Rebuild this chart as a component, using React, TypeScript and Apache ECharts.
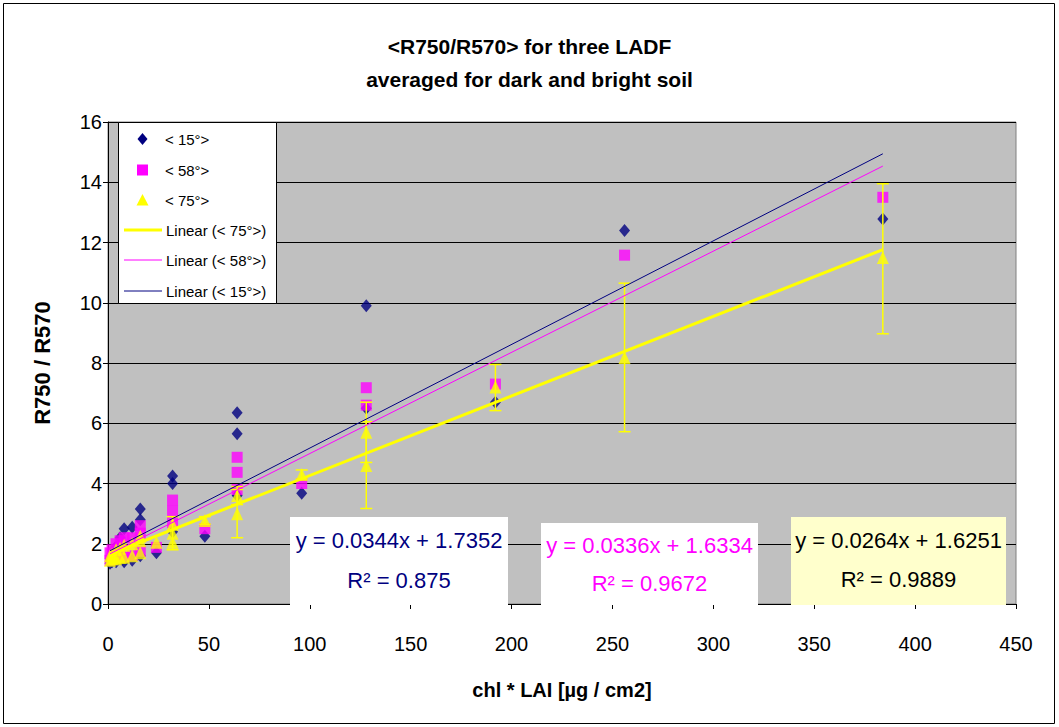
import React, { useEffect, useRef } from "react";
import * as echarts from "echarts";

// ---- Data ----
const seriesNames = ["< 15°>", "< 58°>", "< 75°>"];
const trendNames = ["Linear (< 75°>)", "Linear (< 58°>)", "Linear (< 15°>)"];

const blue15: number[][] = [
  [1, 1.5], [1, 1.35], [2, 1.6], [2, 1.4], [3, 1.5], [4, 1.9], [4, 1.4], [6, 2.2], [6, 1.5],
  [8, 2.5], [8, 1.4], [12, 2.55], [12, 1.45], [16, 3.15], [16, 2.8], [16, 1.6], [24, 1.7],
  [32, 4.25], [32, 4.0], [32, 2.4], [48, 2.25], [64, 6.35], [64, 5.65], [64, 3.6], [96, 3.68],
  [128, 9.9], [128, 6.5], [192, 6.7], [256, 12.4], [384, 12.78],
];

const magenta58: number[][] = [
  [1, 1.7], [1, 1.45], [2, 1.8], [2, 1.5], [3, 1.6], [4, 2.0], [4, 1.55], [6, 2.1], [6, 1.6],
  [8, 2.2], [8, 1.55], [12, 2.2], [12, 1.6], [16, 2.6], [16, 2.35], [16, 1.75], [24, 1.88],
  [32, 3.45], [32, 3.1], [32, 2.7], [48, 2.5], [64, 4.87], [64, 4.37], [64, 3.8], [96, 4.0],
  [128, 7.18], [128, 6.6], [192, 7.3], [256, 11.58], [384, 13.5],
];

const yellow75: number[][] = [
  [1, 1.6], [1, 1.45], [2, 1.65], [2, 1.5], [3, 1.55], [4, 1.8], [4, 1.5], [6, 1.85], [6, 1.55],
  [8, 1.95], [8, 1.55], [12, 2.0], [12, 1.6], [16, 2.25], [16, 2.1], [16, 1.7], [24, 2.05],
  [32, 2.65], [32, 2.35], [32, 2.05], [48, 2.77], [64, 3.6], [64, 3.0], [96, 4.3],
  [128, 5.7], [128, 4.6], [192, 7.2], [256, 8.18], [384, 11.5],
];

// [x, low, high]
const yellowErr: number[][] = [
  [32, 1.8, 2.9], [48, 2.65, 2.9], [64, 2.2, 3.8], [64, 3.3, 3.9], [96, 4.15, 4.45],
  [128, 3.17, 6.05], [128, 4.7, 6.7], [192, 6.42, 7.95], [256, 5.72, 10.65], [384, 8.97, 13.95],
];

// Trendline coefficients (as printed on the chart): [slope, intercept, r2]
const trend15 = [0.0344, 1.7352, 0.875];
const trend58 = [0.0336, 1.6334, 0.9672];
const trend75 = [0.0264, 1.6251, 0.9889];
const trendRange = [1, 384];

const FONT = "'Liberation Sans', Arial, sans-serif";
const NAVY = "#000080";
const MAGENTA = "#FF00FF";
const YELLOW = "#FFFF00";

function trendData(c: number[]) {
  return trendRange.map((x) => [x, c[0] * x + c[1]]);
}

function eqBox(x: number, y: number, w: number, h: number, fill: string, color: string, c: number[], y1: number, y2: number) {
  const cx = x + w / 2;
  return [
    { type: "rect", z: 50, shape: { x, y, width: w, height: h }, style: { fill, stroke: "none" } },
    {
      type: "text", z: 51, x: cx, y: y1,
      style: { text: `y = ${c[0]}x + ${c[1]}`, fill: color, font: `22px ${FONT}`, align: "center", verticalAlign: "middle" },
    },
    {
      type: "text", z: 51, x: cx, y: y2,
      style: { text: `R² = ${c[2]}`, fill: color, font: `22px ${FONT}`, align: "center", verticalAlign: "middle" },
    },
  ];
}

function legendGraphics() {
  const rows = [139, 170, 200, 230, 260, 291];
  const ix = 142.5;
  const txt = (label: string, x: number, y: number) => ({
    type: "text", z: 71, x, y,
    style: { text: label, fill: "#000", font: `15px ${FONT}`, align: "left", verticalAlign: "middle" },
  });
  const line = (y: number, color: string, w: number) => ({
    type: "line", z: 71, shape: { x1: 124, y1: y, x2: 162, y2: y }, style: { stroke: color, lineWidth: w },
  });
  return [
    {
      type: "rect", z: 70, shape: { x: 118.5, y: 122.5, width: 158, height: 181 },
      style: { fill: "#fff", stroke: "#000", lineWidth: 1 },
    },
    {
      type: "polygon", z: 71,
      shape: { points: [[ix, rows[0] - 6], [ix + 5, rows[0]], [ix, rows[0] + 6], [ix - 5, rows[0]]] },
      style: { fill: NAVY },
    },
    txt(seriesNames[0], 165, rows[0]),
    { type: "rect", z: 71, shape: { x: ix - 5.5, y: rows[1] - 5.5, width: 11, height: 11 }, style: { fill: MAGENTA } },
    txt(seriesNames[1], 165, rows[1]),
    {
      type: "polygon", z: 71,
      shape: { points: [[ix, rows[2] - 6], [ix + 6, rows[2] + 5.5], [ix - 6, rows[2] + 5.5]] },
      style: { fill: YELLOW },
    },
    txt(seriesNames[2], 165, rows[2]),
    line(rows[3], YELLOW, 3),
    txt(trendNames[0], 166, rows[3]),
    line(rows[4], MAGENTA, 1),
    txt(trendNames[1], 166, rows[4]),
    line(rows[5], NAVY, 1),
    txt(trendNames[2], 166, rows[5]),
  ];
}

export default function App() {
  const ref = useRef<HTMLDivElement>(null);
  useEffect(() => {
    const chart = echarts.init(ref.current!, null, { renderer: "svg" });
    chart.setOption({
      animation: false,
      backgroundColor: "#ffffff",
      textStyle: { fontFamily: FONT },
      title: {
        text: "<R750/R570> for three LADF\naveraged for dark and bright soil",
        left: "center",
        top: 25,
        textStyle: { fontSize: 21, fontWeight: "bold", color: "#000", lineHeight: 33, fontFamily: FONT },
      },
      grid: {
        left: 108, top: 122, right: 43, bottom: 123,
        show: true, backgroundColor: "#C0C0C0", borderColor: "#808080", borderWidth: 1,
      },
      legend: { show: false },
      xAxis: {
        type: "value", min: 0, max: 450, interval: 50,
        name: "chl * LAI [µg / cm2]", nameLocation: "middle", nameGap: 76,
        nameTextStyle: { fontSize: 20, fontWeight: "bold", color: "#000", fontFamily: FONT },
        axisLine: { show: true, onZero: false, lineStyle: { color: "#000", width: 1 } },
        axisTick: { show: true, inside: false, length: 5, lineStyle: { color: "#000" } },
        axisLabel: { fontSize: 20, color: "#000", margin: 30, fontFamily: FONT },
        splitLine: { show: false },
      },
      yAxis: {
        type: "value", min: 0, max: 16, interval: 2,
        name: "R750 / R570", nameLocation: "middle", nameGap: 55,
        nameTextStyle: { fontSize: 22, fontWeight: "bold", color: "#000", fontFamily: FONT },
        axisLine: { show: true, lineStyle: { color: "#000", width: 1 } },
        axisTick: { show: true, inside: false, length: 5, lineStyle: { color: "#000" } },
        axisLabel: { fontSize: 20, color: "#000", margin: 6, fontFamily: FONT },
        splitLine: { show: true, lineStyle: { color: "#000", width: 1 } },
      },
      series: [
        {
          name: seriesNames[0], type: "scatter", data: blue15, symbol: "diamond", symbolSize: [11, 13],
          itemStyle: { color: NAVY }, z: 3,
        },
        {
          name: seriesNames[1], type: "scatter", data: magenta58, symbol: "rect", symbolSize: 11,
          itemStyle: { color: MAGENTA }, z: 4,
        },
        {
          name: "err75", type: "custom", data: yellowErr, encode: { x: 0, y: [1, 2] }, z: 5,
          renderItem: (_p: any, api: any) => {
            const x = api.value(0);
            const a = api.coord([x, api.value(1)]);
            const b = api.coord([x, api.value(2)]);
            const w = 6;
            const style = { stroke: YELLOW, lineWidth: 1.5 };
            return {
              type: "group",
              children: [
                { type: "line", shape: { x1: a[0], y1: a[1], x2: b[0], y2: b[1] }, style },
                { type: "line", shape: { x1: a[0] - w, y1: a[1], x2: a[0] + w, y2: a[1] }, style },
                { type: "line", shape: { x1: b[0] - w, y1: b[1], x2: b[0] + w, y2: b[1] }, style },
              ],
            };
          },
        },
        {
          name: seriesNames[2], type: "scatter", data: yellow75, symbol: "triangle", symbolSize: [12, 13],
          itemStyle: { color: YELLOW }, z: 6,
        },
        {
          name: trendNames[0], type: "line", data: trendData(trend75), symbol: "none", z: 7,
          lineStyle: { color: YELLOW, width: 3 }, itemStyle: { color: YELLOW },
        },
        {
          name: trendNames[1], type: "line", data: trendData(trend58), symbol: "none", z: 8,
          lineStyle: { color: MAGENTA, width: 1 }, itemStyle: { color: MAGENTA },
        },
        {
          name: trendNames[2], type: "line", data: trendData(trend15), symbol: "none", z: 9,
          lineStyle: { color: NAVY, width: 1 }, itemStyle: { color: NAVY },
        },
      ],
      graphic: [
        ...eqBox(290, 517, 218, 88, "#FFFFFF", NAVY, trend15, 540, 580),
        ...eqBox(541, 523, 217, 82, "#FFFFFF", MAGENTA, trend58, 545, 583),
        ...eqBox(791, 517, 215, 88, "#FFFFCC", "#000000", trend75, 540, 579),
        ...legendGraphics(),
        {
          type: "rect", z: 60, silent: true,
          shape: { x: 3.5, y: 3.5, width: 1051, height: 720 },
          style: { fill: "none", stroke: "#000", lineWidth: 1 },
        },
      ],
    });
    return () => chart.dispose();
  }, []);
  return (
    <div
      ref={ref}
      style={{ position: "fixed", left: 0, top: 0, width: 1059, height: 727, background: "#fff" }}
    />
  );
}
